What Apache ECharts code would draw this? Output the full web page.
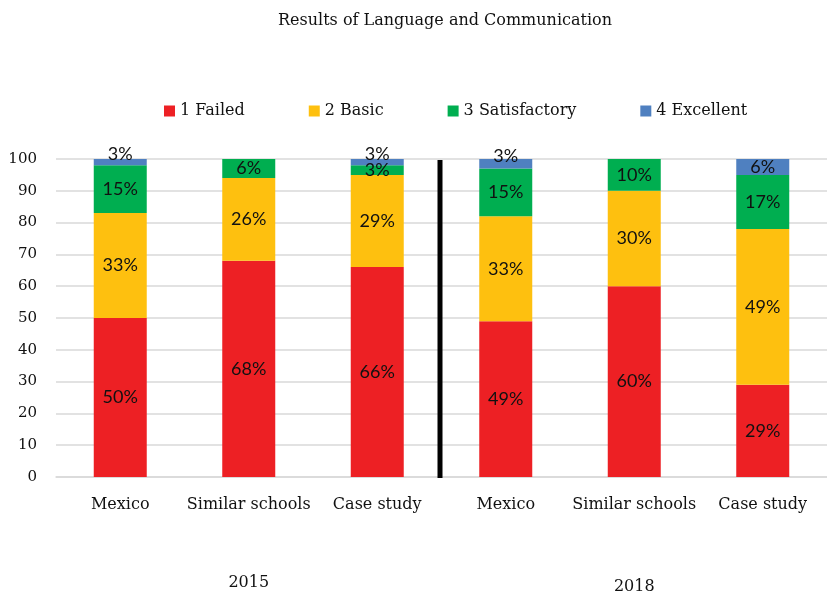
<!DOCTYPE html>
<html>
<head>
<meta charset="utf-8">
<script src="https://cdn.jsdelivr.net/npm/echarts@6/dist/echarts.min.js"></script>
<style>
  html, body { margin: 0; padding: 0; background: #fff; }
  #main { width: 827px; height: 599px; }
</style>
</head>
<body>
<div id="main"></div>
<script>
const categories = ['Mexico', 'Similar schools', 'Case study', 'Mexico', 'Similar schools', 'Case study']
const years = ['', '2015', '', '', '2018', '']
const failed = [50, 68, 66, 49, 60, 29]
const basic = [33, 26, 29, 33, 30, 49]
const satisfactory = [15, 6, 3, 15, 10, 17]
const excellent = [3, 0, 3, 3, 0, 6]
const yTicks = [0, 10, 20, 30, 40, 50, 60, 70, 80, 90, 100]

const serif = 'DejaVu Serif'
const sans = 'Lato'
const colors = ['#ed2024', '#fec00f', '#00ae50', '#4f80c0']

function makeSeries (name, data, color) {
  return {
    name: name,
    type: 'bar',
    stack: 'total',
    barWidth: 53,
    itemStyle: { color: color },
    data: data.map(v => {
      let item = { value: v }
      if (v === 0) item.label = { show: false }
      // thin top segments: Excel puts their label a bit above
      else if (name === '4 Excellent' && v <= 3) item.label = { offset: [0, -8] }
      return item
    }),
    label: {
      show: true,
      position: 'inside',
      formatter: '{c}%',
      color: '#111',
      fontFamily: sans,
      fontSize: 18
    }
  }
}

const chart = echarts.init(document.getElementById('main'))
const option = {
  animation: false,
  backgroundColor: '#fff',
  title: {
    text: 'Results of Language and Communication',
    left: 440,
    textAlign: 'center',
    top: 8,
    textStyle: { fontFamily: serif, fontSize: 16, fontWeight: 'normal', color: '#111' }
  },
  legend: {
    top: 98,
    left: 159,
    itemWidth: 11,
    itemHeight: 11,
    itemGap: 64,
    icon: 'rect',
    textStyle: { fontFamily: serif, fontSize: 16, color: '#111' }
  },
  grid: { left: 56, top: 159, width: 780, bottom: 122, containLabel: false },
  xAxis: [{
    type: 'category',
    data: categories,
    axisLine: { lineStyle: { color: '#d9d9d9', width: 1.5 } },
    axisTick: { show: false },
    axisLabel: { fontFamily: serif, fontSize: 16, color: '#111', margin: 20, interval: 0 }
  }, {
    type: 'category',
    position: 'bottom',
    data: years,
    axisLine: { show: false },
    axisTick: { show: false },
    axisLabel: {
      fontFamily: serif,
      fontSize: 16,
      color: '#111',
      margin: 98,
      interval: 0,
      formatter: v => v === '2018' ? '{low|' + v + '}' : v,
      rich: { low: { fontFamily: serif, fontSize: 16, color: '#111', padding: [4, 0, 0, 0] } }
    }
  }],
  yAxis: {
    type: 'value',
    min: yTicks[0],
    max: yTicks[yTicks.length - 1],
    interval: 10,
    axisLine: { show: false },
    axisTick: { show: false },
    splitLine: { lineStyle: { color: '#d9d9d9', width: 1.5 } },
    axisLabel: { fontFamily: serif, fontSize: 15, color: '#111', margin: 19 }
  },
  series: [
    makeSeries('1 Failed', failed, colors[0]),
    makeSeries('2 Basic', basic, colors[1]),
    makeSeries('3 Satisfactory', satisfactory, colors[2]),
    makeSeries('4 Excellent', excellent, colors[3])
  ]
}
chart.setOption(option)

// black separator between the two years
const px2 = chart.convertToPixel({ xAxisIndex: 0 }, 2)
const px3 = chart.convertToPixel({ xAxisIndex: 0 }, 3)
const yTop = chart.convertToPixel({ yAxisIndex: 0 }, 100)
const yBottom = chart.convertToPixel({ yAxisIndex: 0 }, 0)
const sepX = (px2 + px3) / 2 - 1.5
chart.setOption({
  graphic: [{
    type: 'line',
    shape: { x1: sepX, y1: yTop + 1, x2: sepX, y2: yBottom + 1 },
    style: { stroke: '#000', lineWidth: 5 },
    z: 10
  }]
})
</script>
</body>
</html>
